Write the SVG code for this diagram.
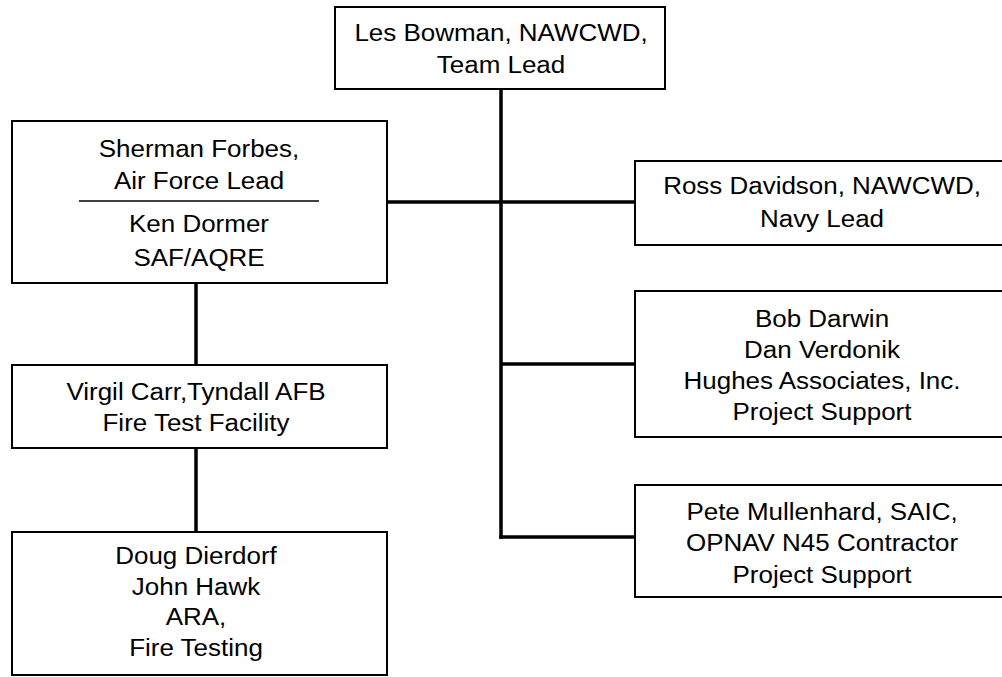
<svg xmlns="http://www.w3.org/2000/svg" width="1002" height="677" viewBox="0 0 1002 677">
<style>
.box{fill:#fff;stroke:#000;stroke-width:2}
.conn{stroke:#000;stroke-width:3.5;fill:none}
.t{font-family:"Liberation Sans",Arial,sans-serif;font-size:23.5px;fill:#000;text-anchor:middle}
</style>
<rect width="1002" height="677" fill="#fff"/>
<g id="connectors">
<line class="conn" x1="501" y1="89" x2="501" y2="538.7"/>
<line class="conn" x1="387" y1="202" x2="635" y2="202"/>
<line class="conn" x1="501" y1="364" x2="635" y2="364"/>
<line class="conn" x1="499.3" y1="537" x2="635" y2="537"/>
<line class="conn" x1="196" y1="283" x2="196" y2="365"/>
<line class="conn" x1="196" y1="448" x2="196" y2="532"/>
</g>
<g id="lead">
<rect class="box" x="335" y="7" width="330" height="82"/>
<text class="t" transform="translate(501,0) scale(1.105,1)"><tspan x="0" y="41">Les Bowman, NAWCWD,</tspan><tspan x="0" y="73">Team Lead</tspan></text>
</g>
<g id="airforce">
<rect class="box" x="12" y="121" width="375" height="162"/>
<line x1="79" y1="201" x2="319" y2="201" stroke="#000" stroke-width="1.5"/>
<text class="t" transform="translate(199,0) scale(1.105,1)"><tspan x="0" y="157">Sherman Forbes,</tspan><tspan x="0" y="189">Air Force Lead</tspan><tspan x="0" y="232">Ken Dormer</tspan><tspan x="0" y="266">SAF/AQRE</tspan></text>
</g>
<g id="navy">
<rect class="box" x="635" y="161" width="380" height="84"/>
<text class="t" transform="translate(822,0) scale(1.105,1)"><tspan x="0" y="194">Ross Davidson, NAWCWD,</tspan><tspan x="0" y="227">Navy Lead</tspan></text>
</g>
<g id="hughes">
<rect class="box" x="635" y="291" width="380" height="146"/>
<text class="t" transform="translate(822,0) scale(1.105,1)"><tspan x="0" y="327">Bob Darwin</tspan><tspan x="0" y="358">Dan Verdonik</tspan><tspan x="0" y="389">Hughes Associates, Inc.</tspan><tspan x="0" y="420">Project Support</tspan></text>
</g>
<g id="saic">
<rect class="box" x="635" y="485" width="380" height="112"/>
<text class="t" transform="translate(822,0) scale(1.105,1)"><tspan x="0" y="520">Pete Mullenhard, SAIC,</tspan><tspan x="0" y="551">OPNAV N45 Contractor</tspan><tspan x="0" y="583">Project Support</tspan></text>
</g>
<g id="tyndall">
<rect class="box" x="12" y="365" width="375" height="83"/>
<text class="t" transform="translate(196,0) scale(1.105,1)"><tspan x="0" y="400">Virgil Carr,Tyndall AFB</tspan><tspan x="0" y="431">Fire Test Facility</tspan></text>
</g>
<g id="ara">
<rect class="box" x="12" y="532" width="375" height="143"/>
<text class="t" transform="translate(196,0) scale(1.105,1)"><tspan x="0" y="564">Doug Dierdorf</tspan><tspan x="0" y="595">John Hawk</tspan><tspan x="0" y="625">ARA,</tspan><tspan x="0" y="656">Fire Testing</tspan></text>
</g>
</svg>
